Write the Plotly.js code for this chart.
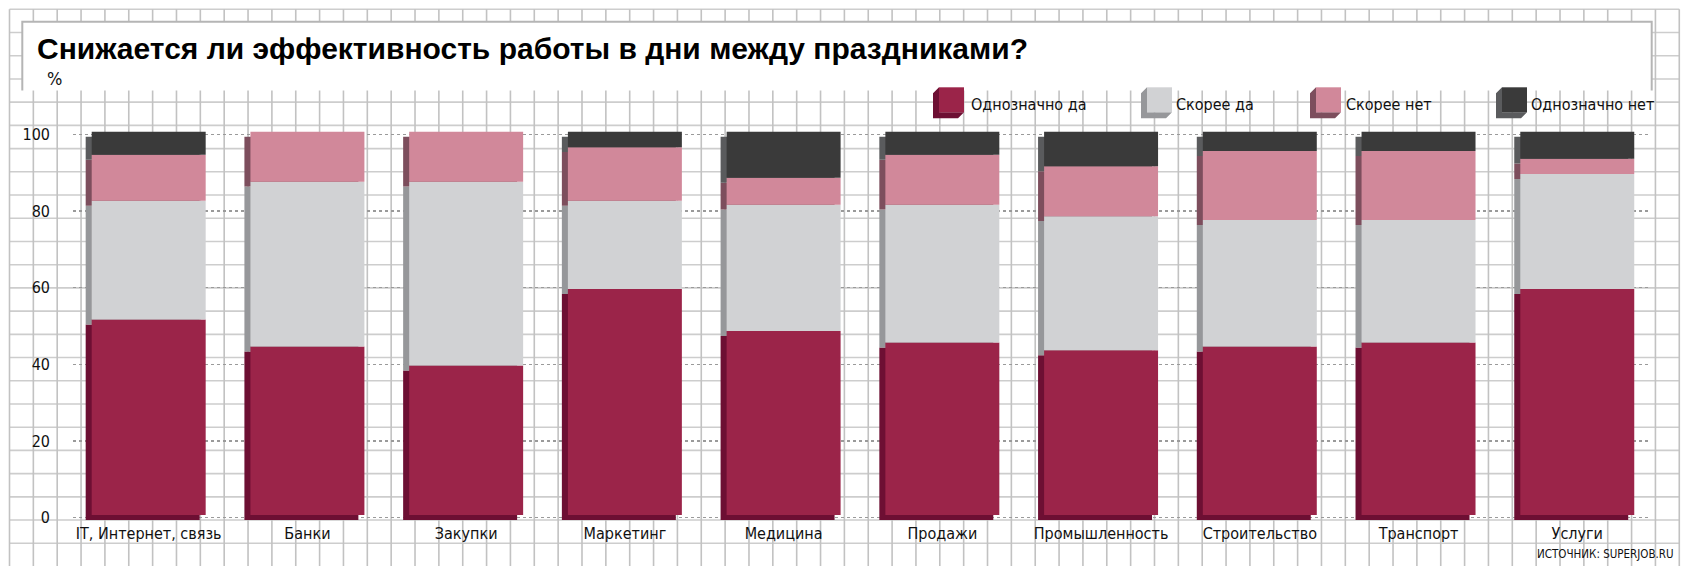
<!DOCTYPE html>
<html>
<head>
<meta charset="utf-8">
<script src="https://cdn.plot.ly/plotly-3.0.1.min.js"></script>
<style>
  html, body { margin: 0; padding: 0; background: #fff; }
  #chart { width: 1682px; height: 566px; }
</style>
</head>
<body>
<div id="chart"></div>
<script>
// data, %
const categories = ['IT, Интернет, связь', 'Банки', 'Закупки', 'Маркетинг', 'Медицина',
  'Продажи', 'Промышленность', 'Строительство', 'Транспорт', 'Услуги'];
const definitelyYes = [51, 44, 39, 59, 48, 45, 43, 44, 45, 59];
const ratherYes     = [31, 43, 48, 23, 33, 36, 35, 33, 32, 30];
const ratherNo      = [12, 13, 13, 14, 7, 13, 13, 18, 18, 4];
const definitelyNo  = [6, 0, 0, 4, 12, 6, 9, 5, 5, 7];
const seriesNames = ['Однозначно да', 'Скорее да', 'Скорее нет', 'Однозначно нет'];
const yTicks = [0, 20, 40, 60, 80, 100];

const frontColors = ['#9b2449', '#d1d2d4', '#d1889a', '#3a3a3a'];
const sideColors  = ['#6d0f33', '#96979a', '#7d4e5d', '#5a5b5d'];

const W = 1682, H = 566;
const M = { l: 73, r: 33, t: 131, b: 44 };
const PW = W - M.l - M.r, PH = H - M.t - M.b;
// pixel -> paper helpers for the decoration shapes
const px = v => (v - M.l) / PW;
const py = v => (H - M.b - v) / PH;

const NARROW = '"Liberation Sans Narrow", "DejaVu Sans Condensed", "Liberation Sans", sans-serif';

// 3d look: front faces lifted a bit, darker copies shifted down-left behind them
const barW = 0.718, depthX = 0.038, lift = 0.65;
const series = [definitelyYes, ratherYes, ratherNo, definitelyNo];
const traces = [];
const bases = categories.map(() => 0);
const segBases = series.map(vals => {
  const b = bases.slice();
  vals.forEach((v, i) => { bases[i] += v; });
  return b;
});

series.forEach((vals, k) => {
  traces.push({
    type: 'bar', x: categories, y: vals,
    base: segBases[k].map(b => b - lift),
    width: barW, offset: -barW / 2 - depthX,
    marker: { color: sideColors[k], line: { width: 0 } },
    hoverinfo: 'skip', showlegend: false
  });
});
series.forEach((vals, k) => {
  traces.push({
    type: 'bar', x: categories, y: vals, name: seriesNames[k],
    base: segBases[k].map(b => b + lift),
    width: barW, offset: -barW / 2,
    marker: { color: frontColors[k], line: { width: 0 } },
    showlegend: false
  });
});

// background squared paper
let vPath = '', hPath = '';
for (let k = 0; k <= 70; k++) {
  const x = 9.5 + 23.854 * k;
  vPath += `M${px(x)},${py(9.3)}L${px(x)},${py(H)}`;
}
for (let j = 0; j <= 23; j++) {
  const y = 9.3 + 23.217 * j;
  hPath += `M${px(9.5)},${py(y)}L${px(1679.3)},${py(y)}`;
}
const shapes = [
  { type: 'path', xref: 'paper', yref: 'paper', path: hPath, layer: 'below',
    line: { color: '#cdcdcd', width: 1.6 } },
  { type: 'path', xref: 'paper', yref: 'paper', path: vPath, layer: 'below',
    line: { color: '#c2c2c2', width: 1.6 } },
  // title box
  { type: 'rect', xref: 'paper', yref: 'paper', layer: 'below',
    x0: px(22.3), x1: px(1651.7), y0: py(21.7), y1: py(90.5),
    fillcolor: '#ffffff', line: { width: 0 } },
  { type: 'path', xref: 'paper', yref: 'paper', layer: 'below',
    path: `M${px(22.3)},${py(90.5)}L${px(22.3)},${py(21.7)}L${px(1651.7)},${py(21.7)}L${px(1651.7)},${py(90.5)}`,
    line: { color: '#b5b5b5', width: 2 } }
];

// legend drawn by hand: little cubes + labels
const legendX = [939, 1147, 1316, 1502];
const legendTextX = [969, 1174, 1344, 1529];
const annotations = [];
const sy = 87.3, s = 25, d = 6;
legendX.forEach((x, k) => {
  shapes.push({
    type: 'path', xref: 'paper', yref: 'paper',
    path: `M${px(x)},${py(sy)}L${px(x - d)},${py(sy + d)}L${px(x - d)},${py(sy + s + d)}L${px(x + s - d)},${py(sy + s + d)}L${px(x + s)},${py(sy + s)}L${px(x)},${py(sy + s)}Z`,
    fillcolor: sideColors[k], line: { width: 0 }
  });
  shapes.push({
    type: 'rect', xref: 'paper', yref: 'paper',
    x0: px(x), x1: px(x + s), y0: py(sy), y1: py(sy + s),
    fillcolor: frontColors[k], line: { width: 0 }
  });
  annotations.push({
    xref: 'paper', yref: 'paper', x: px(legendTextX[k]), y: py(105),
    xanchor: 'left', yanchor: 'middle', showarrow: false,
    text: seriesNames[k], font: { family: NARROW, size: 16, color: '#111' }
  });
});

annotations.push({
  xref: 'paper', yref: 'paper', x: px(54), y: py(78), xanchor: 'center', yanchor: 'middle',
  showarrow: false, text: '%', font: { family: NARROW, size: 18, color: '#111' }
});
annotations.push({
  xref: 'paper', yref: 'paper', x: px(1676), y: py(554), xanchor: 'right', yanchor: 'middle',
  showarrow: false, text: 'ИСТОЧНИК: SUPERJOB.RU', font: { family: NARROW, size: 11.5, color: '#111' }
});

const layout = {
  width: W, height: H,
  margin: M,
  paper_bgcolor: '#ffffff',
  plot_bgcolor: 'rgba(0,0,0,0)',
  barmode: 'overlay',
  showlegend: false,
  title: {
    text: 'Снижается ли эффективность работы в дни между праздниками?',
    xref: 'container', yref: 'container',
    x: 37 / W, xanchor: 'left', y: 1 - 48 / H, yanchor: 'middle',
    font: { family: '"Liberation Sans", Arial, sans-serif', size: 30, weight: 'bold', color: '#000' }
  },
  xaxis: {
    range: [-0.4769, 9.4519],
    showgrid: false, zeroline: false, showline: false, ticks: '',
    tickfont: { family: NARROW, size: 16, color: '#111' }
  },
  yaxis: {
    range: [-1.15, 100.86],
    tickvals: yTicks,
    showgrid: true, gridcolor: '#9a9a9a', gridwidth: 1.5, griddash: 'dot',
    zeroline: false, showline: false, ticks: '',
    ticklabelstandoff: 22,
    tickfont: { family: NARROW, size: 16, color: '#111' }
  },
  shapes: shapes,
  annotations: annotations
};

Plotly.newPlot('chart', traces, layout, { displayModeBar: false, staticPlot: true });
</script>
</body>
</html>
